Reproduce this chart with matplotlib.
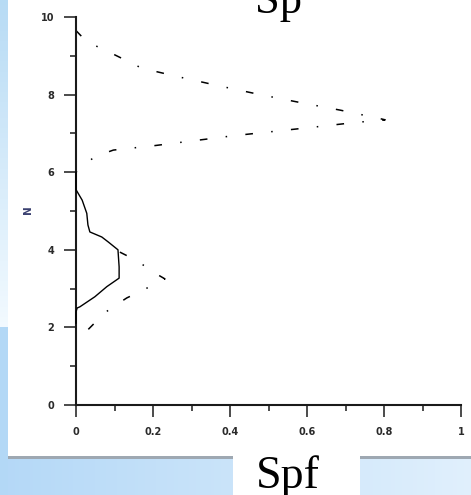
import matplotlib
matplotlib.use("Agg")
import matplotlib.pyplot as plt
import numpy as np
from matplotlib.patches import Rectangle
from matplotlib.ticker import MultipleLocator

# Profile data: Spf against N
solid_spf = [0, 0, 0.016, 0.028, 0.031, 0.036, 0.067, 0.084, 0.109, 0.112, 0.112,
             0.08, 0.049, 0.01, 0.003, 0, 0]
solid_n = [6.0, 5.55, 5.28, 4.94, 4.64, 4.46, 4.33, 4.20, 4.0, 3.56, 3.27,
           3.05, 2.79, 2.53, 2.5, 2.4, 2.11]

upper_spf = [0, 0.028, 0.075, 0.122, 0.171, 0.27, 0.374, 0.478, 0.58, 0.686, 0.79,
             0.803, 0.724, 0.625, 0.513, 0.409, 0.305, 0.2, 0.097, 0.049, 0.015, 0]
upper_n = [9.65, 9.36, 9.15, 8.92, 8.68, 8.45, 8.22, 8.0, 7.8, 7.6, 7.38,
           7.35, 7.28, 7.17, 7.05, 6.94, 6.81, 6.68, 6.57, 6.4, 6.14, 6.0]

lower_spf = [0.114, 0.158, 0.205, 0.231, 0.205, 0.174, 0.132, 0.112, 0.078, 0.049, 0.032]
lower_n = [3.94, 3.72, 3.4, 3.25, 3.12, 2.96, 2.76, 2.63, 2.4, 2.12, 1.95]

x_ticks = [0, 0.2, 0.4, 0.6, 0.8, 1]
x_labels = ["0", "0.2", "0.4", "0.6", "0.8", "1"]
y_ticks = [0, 2, 4, 6, 8, 10]
y_labels = ["0", "2", "4", "6", "8", "10"]

W, H = 471, 495
fig = plt.figure(figsize=(W / 100, H / 100), dpi=100)
fig.patch.set_facecolor("white")


def px_rect(x0, y0, x1, y1, color, z=0):
    """Rectangle in pixel coordinates measured from the top-left corner."""
    r = Rectangle((x0 / W, 1 - y1 / H), (x1 - x0) / W, (y1 - y0) / H,
                  transform=fig.transFigure, facecolor=color, edgecolor="none",
                  zorder=z)
    fig.add_artist(r)


# Slide background: pale left strip fading out, blue lower band
strip = np.linspace(0, 1, 64)[:, None]
c_top = np.array([0.72, 0.86, 0.96])
c_bot = np.array([0.95, 0.98, 1.0])
grad = c_top[None, None, :] * (1 - strip[..., None]) + c_bot[None, None, :] * strip[..., None]
ax_bg1 = fig.add_axes([0, 1 - 327 / H, 8 / W, 327 / H])
ax_bg1.imshow(grad, aspect="auto", extent=[0, 1, 0, 1])
ax_bg1.axis("off")

px_rect(0, 327, 8, 495, "#b3d8f6")

band = np.linspace(0, 1, 128)[None, :]
c_l = np.array([0.71, 0.85, 0.97])
c_r = np.array([0.88, 0.94, 0.99])
grad2 = c_l[None, None, :] * (1 - band[..., None]) + c_r[None, None, :] * band[..., None]
ax_bg2 = fig.add_axes([8 / W, 0, (W - 8) / W, (495 - 458) / H])
ax_bg2.imshow(grad2, aspect="auto", extent=[0, 1, 0, 1])
ax_bg2.axis("off")

px_rect(8, 456, W, 459, "#9ea8b2", z=2)
px_rect(233, 456, 360, 495, "white", z=3)

# Main chart
left, right, top, bottom = 76, 461, 17, 405
ax = fig.add_axes([left / W, 1 - bottom / H, (right - left) / W, (bottom - top) / H])
ax.set_facecolor("none")
ax.set_xlim(0, 1)
ax.set_ylim(0, 10)

dashdot = (0, (5.0, 12.0, 1.0, 12.0))
ax.plot(solid_spf, solid_n, color="black", lw=1.0, clip_on=False, zorder=3)
ax.plot(upper_spf, upper_n, color="black", lw=1.1, ls=dashdot, clip_on=False)
ax.plot(lower_spf, lower_n, color="black", lw=1.1, ls=dashdot, clip_on=False)

for s in ("top", "right"):
    ax.spines[s].set_visible(False)
for s in ("left", "bottom"):
    ax.spines[s].set_linewidth(1.5)
    ax.spines[s].set_color("#1a1a1a")

ax.set_xticks(x_ticks)
ax.set_xticklabels(x_labels)
ax.set_yticks(y_ticks)
ax.set_yticklabels(y_labels)
ax.xaxis.set_minor_locator(MultipleLocator(0.1))
ax.yaxis.set_minor_locator(MultipleLocator(1))
ax.tick_params(which="major", direction="out", length=8.5, width=1.1,
               color="#1a1a1a", labelsize=7, labelcolor="#2a2a2a", pad=7)
ax.tick_params(which="minor", direction="out", length=4.3, width=1.1, color="#1a1a1a")
for lab in ax.get_xticklabels() + ax.get_yticklabels():
    lab.set_fontweight("bold")

ax.set_ylabel("N", fontsize=7.5, color="#3a4070", fontweight="bold")
ax.yaxis.set_label_coords(-0.112, 0.503)

fig.text(278 / W, 1 - 13 / H, "Sp", family="Liberation Serif", fontsize=32,
         ha="center", va="baseline", color="black")
fig.text(288 / W, 1 - 488 / H, "Spf", family="Liberation Serif", fontsize=33,
         ha="center", va="baseline", color="black", zorder=5)

fig.savefig("out.png", dpi=100, facecolor=fig.get_facecolor())
